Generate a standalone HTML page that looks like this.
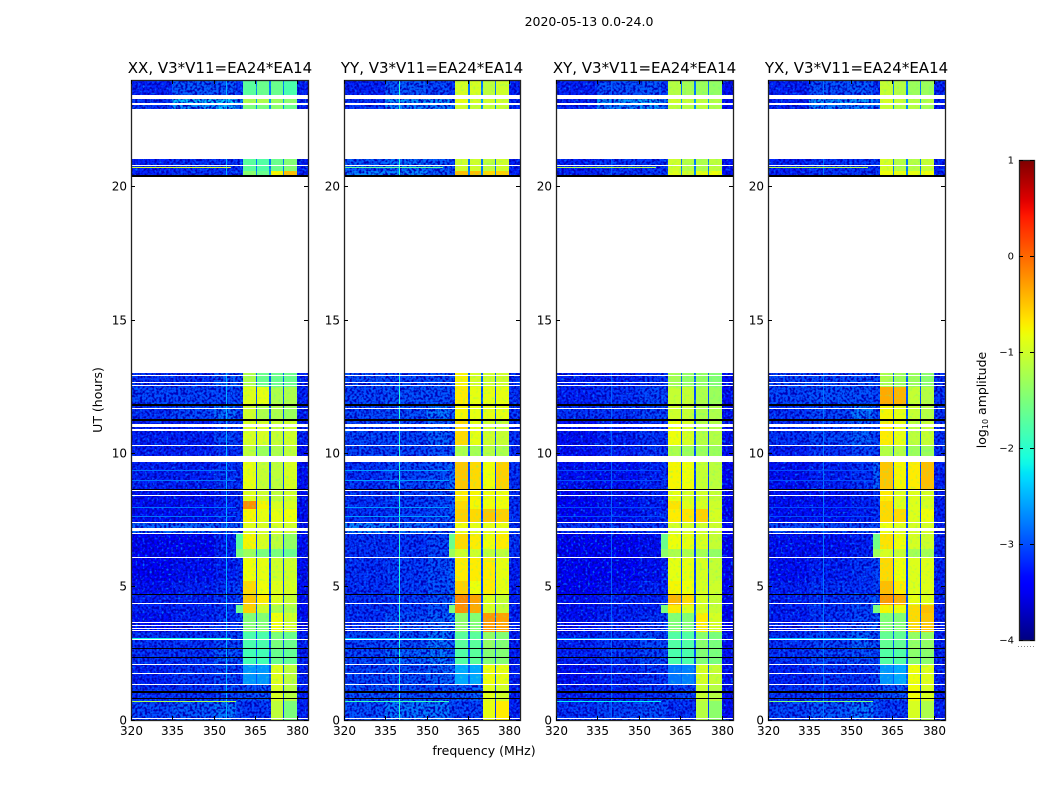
<!DOCTYPE html>
<html lang="en">
<head>
<meta charset="utf-8">
<title>2020-05-13 0.0-24.0</title>
<style>
html,body{margin:0;padding:0;background:#fff;}
svg{display:block;font-family:"DejaVu Sans","Liberation Sans",sans-serif;fill:#000;}
</style>
</head>
<body>
<svg id="figure" width="1050" height="800" viewBox="0 0 1050 800" xmlns="http://www.w3.org/2000/svg">
  <defs>
    <linearGradient id="jet-gradient" x1="0" y1="1" x2="0" y2="0"></linearGradient>
    <filter id="grain-dark" x="0" y="0" width="1" height="1" color-interpolation-filters="sRGB">
      <feTurbulence type="fractalNoise" baseFrequency="0.42" numOctaves="1" seed="4"/>
      <feColorMatrix type="matrix" values="0 0 0 0 0  0 0 0 0 0  0 0 0 0 0.72  5 0 0 0 -2.15"/>
    </filter>
    <filter id="grain-light" x="0" y="0" width="1" height="1" color-interpolation-filters="sRGB">
      <feTurbulence type="fractalNoise" baseFrequency="0.42" numOctaves="1" seed="11"/>
      <feColorMatrix type="matrix" values="0 0 0 0 0  0 0 0 0 0.42  0 0 0 0 1  0 5 0 0 -2.85"/>
    </filter>
    <filter id="grain-band" x="0" y="0" width="1" height="1" color-interpolation-filters="sRGB">
      <feTurbulence type="fractalNoise" baseFrequency="0.38" numOctaves="1" seed="7"/>
      <feColorMatrix type="matrix" values="0 0 0 0 0.3  0 0 0 0 1  0 0 0 0 0.6  0 4 0 0 -2.2"/>
    </filter>
  </defs>
  <rect x="0" y="0" width="1050" height="800" fill="#fff"/>
  <text x="589" y="26" font-size="12.5" text-anchor="middle">2020-05-13 0.0-24.0</text>
  <text x="484" y="755" font-size="12.5" text-anchor="middle">frequency (MHz)</text>
  <text x="0" y="0" font-size="12.5" text-anchor="middle" transform="translate(102 400) rotate(-90)">UT (hours)</text>
  <g id="panels"></g>
  <g id="colorbar"></g>
</svg>
<script>
// ---- data -------------------------------------------------------------
const panelTitles = ['XX, V3*V11=EA24*EA14', 'YY, V3*V11=EA24*EA14', 'XY, V3*V11=EA24*EA14', 'YX, V3*V11=EA24*EA14'];
const freqTicks = [320, 335, 350, 365, 380];
const hourTicks = [0, 5, 10, 15, 20];
const colorbarTicks = [1, 0, -1, -2, -3, -4];
const freqEdges = [320, 335, 350, 358, 360.4, 365.1, 365.7, 369.9, 370.5, 374.8, 375.4, 380, 384];
const hourEdges = [24, 23.4, 23.1, 22.9, 20.6, 20.38, 12.5, 11.8, 11.2, 10.3, 9.7, 8.65, 8.2, 7.9, 7.4, 7.0, 6.4, 6.1, 5.2, 4.7, 4.3, 4.0, 3.3, 2.7, 2.1, 1.3, 0.7, 0];
// log10 amplitude per time segment: 320-335, 335-350, 350-358, 358-360, band A, band B, band C, band D, 380-384
const xxLevels = [
  [-3.2,-2.9,-2.9,-3.1,-1.7,-1.6,-1.6,-1.8,-3.2],
  [-3.1,-2.4,-2.3,-2.7,-1.2,-1.2,-1.3,-1.4,-3.2],
  [-3.1,-2.6,-2.4,-2.8,-1.5,-1.5,-1.4,-1.6,-3.2],
  [-3.2,-3.1,-3.1,-3.1,-1.7,-1.75,-1.6,-1.45,-3.2],
  [-3.2,-3.1,-3.1,-3.1,-1.4,-1.6,-0.75,-0.45,-3.2],
  [-3.1,-3.1,-2.9,-3.0,-1.2,-1.6,-1.6,-1.6,-3.2],
  [-3.0,-3.0,-3.0,-3.0,-0.9,-0.85,-1.2,-1.2,-3.2],
  [-3.1,-3.0,-2.8,-3.0,-1.0,-1.2,-1.2,-1.3,-3.2],
  [-3.2,-3.2,-3.0,-3.1,-0.95,-0.95,-1.05,-1.0,-3.2],
  [-3.2,-3.2,-3.1,-3.1,-1.1,-1.3,-1.2,-1.1,-3.3],
  [-3.2,-3.2,-3.1,-3.1,-0.85,-1.05,-1.1,-0.95,-3.3],
  [-3.3,-3.3,-3.2,-3.1,-0.9,-1.0,-1.1,-1.0,-3.3],
  [-3.3,-3.3,-3.2,-3.1,-0.2,-0.75,-0.95,-0.95,-3.3],
  [-3.3,-3.3,-3.2,-3.1,-0.75,-0.85,-0.85,-0.8,-3.3],
  [-2.85,-2.85,-2.9,-2.8,-0.9,-0.95,-0.95,-1.0,-3.3],
  [-3.4,-3.4,-3.2,-1.7,-0.75,-0.95,-1.1,-1.35,-3.3],
  [-3.4,-3.4,-3.2,-1.5,-1.3,-1.5,-1.5,-1.6,-3.3],
  [-3.4,-3.3,-3.2,-3.1,-0.8,-0.85,-1.0,-1.0,-3.3],
  [-3.3,-3.2,-3.1,-3.0,-0.6,-0.8,-0.9,-0.95,-3.3],
  [-3.2,-3.2,-3.1,-3.0,-0.5,-0.7,-0.9,-1.05,-3.3],
  [-3.2,-3.2,-3.1,-1.6,-0.55,-1.0,-1.2,-1.2,-3.3],
  [-3.3,-3.2,-3.1,-3.0,-1.45,-1.45,-0.8,-1.0,-3.3],
  [-3.1,-3.1,-3.0,-3.0,-1.8,-1.8,-1.5,-1.6,-3.2],
  [-3.1,-3.1,-2.9,-3.0,-1.85,-1.85,-1.6,-1.65,-3.2],
  [-3.2,-3.1,-3.0,-3.1,-2.65,-2.65,-0.9,-1.1,-3.2],
  [-3.1,-3.1,-3.0,-3.0,-2.95,-2.9,-0.95,-1.15,-3.2],
  [-3.0,-2.9,-2.75,-3.0,-3.05,-3.05,-1.1,-1.5,-3.2]
];
const yyLevels = [
  [-3.2,-2.9,-3.0,-3.1,-0.95,-0.95,-1.1,-1.0,-3.2],
  [-3.1,-2.6,-2.6,-2.8,-0.85,-0.95,-1.0,-1.0,-3.2],
  [-3.1,-2.7,-2.7,-2.8,-1.0,-1.05,-1.05,-1.05,-3.2],
  [-2.9,-2.8,-2.9,-3.0,-1.0,-1.0,-1.1,-1.0,-3.2],
  [-2.7,-2.7,-2.9,-2.9,-0.45,-0.45,-0.6,-0.55,-3.2],
  [-2.95,-3.0,-2.95,-2.95,-0.75,-0.95,-1.0,-1.0,-3.1],
  [-3.0,-2.95,-2.95,-2.95,-0.7,-0.85,-0.85,-0.85,-3.1],
  [-3.0,-2.95,-2.75,-2.9,-0.75,-0.85,-0.85,-0.85,-3.1],
  [-3.0,-3.0,-2.85,-2.95,-0.6,-0.85,-1.0,-1.05,-3.1],
  [-3.0,-3.0,-2.95,-2.95,-1.2,-1.25,-1.15,-1.2,-3.1],
  [-3.1,-3.0,-2.95,-2.8,-0.5,-0.6,-0.8,-0.55,-3.1],
  [-3.1,-3.05,-3.0,-2.9,-0.7,-0.75,-0.8,-0.8,-3.1],
  [-3.1,-3.05,-3.0,-2.9,-0.6,-0.75,-0.8,-0.8,-3.1],
  [-3.1,-3.05,-3.0,-2.9,-0.55,-0.6,-0.5,-0.55,-3.1],
  [-2.7,-2.8,-2.9,-2.85,-0.8,-0.85,-0.85,-0.85,-3.1],
  [-3.1,-3.1,-3.0,-1.6,-0.6,-0.7,-0.8,-0.7,-3.1],
  [-3.1,-3.1,-3.0,-1.3,-1.0,-1.0,-1.1,-1.1,-3.1],
  [-3.1,-3.05,-2.95,-2.85,-0.7,-0.7,-0.7,-0.85,-3.2],
  [-3.1,-3.05,-2.95,-2.85,-0.55,-0.8,-0.7,-0.85,-3.2],
  [-3.1,-3.05,-2.95,-2.75,-0.15,-0.3,-0.9,-1.05,-3.2],
  [-3.1,-3.05,-2.95,-1.5,-0.2,-0.35,-0.95,-1.05,-3.2],
  [-3.1,-2.95,-2.85,-2.75,-1.4,-1.45,-0.25,-0.3,-3.2],
  [-3.0,-2.95,-2.75,-2.85,-1.7,-1.7,-1.35,-1.45,-3.2],
  [-3.0,-2.85,-2.75,-2.85,-1.75,-1.7,-1.45,-1.45,-3.2],
  [-3.0,-2.95,-2.85,-2.85,-2.55,-2.55,-0.8,-0.85,-3.2],
  [-2.95,-2.95,-2.95,-2.95,-2.9,-2.85,-0.9,-1.0,-3.2],
  [-2.95,-2.75,-2.75,-2.95,-3.0,-3.0,-0.85,-0.7,-3.2]
];
const xyLevels = [
  [-3.2,-2.95,-2.9,-3.1,-1.15,-1.25,-1.3,-1.35,-3.3],
  [-3.2,-2.6,-2.5,-2.8,-1.0,-1.05,-1.1,-1.15,-3.3],
  [-3.2,-2.7,-2.6,-2.8,-1.1,-1.15,-1.1,-1.2,-3.3],
  [-3.2,-3.1,-3.1,-3.1,-1.0,-1.15,-1.2,-1.1,-3.3],
  [-3.2,-3.1,-3.1,-3.1,-0.9,-1.0,-0.85,-0.8,-3.3],
  [-3.2,-3.2,-3.1,-3.1,-1.25,-1.35,-1.35,-1.45,-3.3],
  [-3.2,-3.1,-3.0,-3.0,-1.05,-1.05,-1.2,-1.3,-3.3],
  [-3.1,-3.1,-3.0,-3.0,-1.0,-1.05,-1.2,-1.2,-3.3],
  [-3.3,-3.2,-3.1,-3.1,-0.8,-0.95,-1.15,-1.15,-3.3],
  [-3.3,-3.2,-3.1,-3.1,-1.2,-1.3,-1.3,-1.3,-3.3],
  [-3.3,-3.3,-3.2,-3.1,-0.75,-0.8,-1.05,-1.1,-3.4],
  [-3.4,-3.3,-3.2,-3.2,-0.85,-0.95,-1.0,-1.05,-3.4],
  [-3.4,-3.3,-3.2,-3.2,-0.65,-0.9,-0.95,-1.0,-3.4],
  [-3.4,-3.3,-3.2,-3.1,-0.7,-0.65,-0.55,-0.95,-3.4],
  [-3.1,-3.1,-3.1,-3.1,-0.95,-0.95,-1.0,-1.0,-3.4],
  [-3.4,-3.4,-3.3,-1.6,-0.8,-0.85,-0.95,-1.05,-3.4],
  [-3.4,-3.4,-3.3,-1.4,-1.2,-1.2,-1.25,-1.35,-3.4],
  [-3.4,-3.4,-3.3,-3.2,-0.85,-0.85,-0.95,-1.05,-3.4],
  [-3.4,-3.3,-3.2,-3.2,-0.75,-0.8,-0.95,-1.0,-3.4],
  [-3.3,-3.2,-3.2,-3.1,-0.4,-0.6,-0.95,-1.05,-3.4],
  [-3.3,-3.2,-3.2,-1.5,-0.7,-0.9,-0.95,-1.05,-3.4],
  [-3.3,-3.2,-3.1,-3.0,-1.45,-1.45,-0.7,-0.95,-3.4],
  [-3.2,-3.1,-3.0,-3.0,-1.75,-1.75,-1.4,-1.5,-3.3],
  [-3.2,-3.1,-3.0,-3.0,-1.8,-1.8,-1.45,-1.5,-3.3],
  [-3.3,-3.2,-3.1,-3.1,-2.8,-2.75,-0.95,-1.05,-3.3],
  [-3.2,-3.2,-3.1,-3.1,-3.05,-3.0,-1.05,-1.15,-3.3],
  [-3.1,-3.0,-2.95,-3.0,-3.1,-3.1,-1.15,-1.4,-3.3]
];
const yxLevels = [
  [-3.2,-2.95,-2.9,-3.1,-1.05,-1.15,-1.3,-1.3,-3.2],
  [-3.2,-2.6,-2.6,-2.8,-0.95,-1.05,-1.15,-1.15,-3.2],
  [-3.2,-2.7,-2.7,-2.8,-1.05,-1.15,-1.15,-1.25,-3.2],
  [-3.2,-3.1,-3.1,-3.1,-0.95,-1.15,-1.15,-1.05,-3.2],
  [-3.2,-3.1,-3.1,-3.1,-0.8,-0.85,-0.85,-0.8,-3.2],
  [-3.0,-3.0,-2.95,-3.0,-1.2,-1.3,-1.3,-1.4,-3.1],
  [-3.0,-2.95,-2.95,-3.0,-0.35,-0.4,-1.05,-1.15,-3.1],
  [-3.1,-3.0,-2.75,-2.95,-0.75,-0.85,-1.05,-1.15,-3.1],
  [-3.1,-3.0,-2.85,-3.0,-0.7,-0.85,-1.1,-1.05,-3.1],
  [-3.2,-3.1,-3.0,-3.0,-1.15,-1.15,-1.3,-1.3,-3.1],
  [-3.3,-3.2,-3.1,-2.85,-0.5,-0.75,-0.7,-0.45,-3.2],
  [-3.3,-3.3,-3.2,-3.1,-0.7,-0.9,-0.9,-0.95,-3.2],
  [-3.3,-3.3,-3.2,-3.1,-0.6,-0.9,-0.9,-0.95,-3.2],
  [-3.3,-3.3,-3.2,-3.1,-0.6,-0.6,-0.9,-0.8,-3.2],
  [-3.0,-3.0,-3.0,-3.0,-0.8,-0.9,-0.95,-0.95,-3.2],
  [-3.3,-3.3,-3.2,-1.55,-0.65,-0.8,-0.95,-1.0,-3.2],
  [-3.3,-3.3,-3.2,-1.3,-0.95,-1.05,-1.25,-1.25,-3.2],
  [-3.3,-3.2,-3.1,-3.0,-0.6,-0.8,-0.9,-0.9,-3.2],
  [-3.2,-3.1,-3.1,-3.0,-0.45,-0.7,-0.9,-0.9,-3.2],
  [-3.2,-3.1,-3.0,-2.9,-0.25,-0.35,-0.85,-0.9,-3.2],
  [-3.2,-3.1,-3.0,-1.5,-0.75,-0.8,-0.6,-0.45,-3.2],
  [-3.2,-3.1,-3.0,-2.9,-1.45,-1.45,-0.6,-0.5,-3.2],
  [-3.1,-3.0,-2.85,-2.95,-1.65,-1.65,-1.35,-1.35,-3.2],
  [-3.1,-3.0,-2.95,-3.0,-1.75,-1.75,-1.4,-1.4,-3.2],
  [-3.2,-3.1,-3.1,-3.0,-2.65,-2.55,-0.8,-0.9,-3.2],
  [-3.1,-3.1,-3.1,-3.0,-2.95,-2.9,-0.8,-0.95,-3.2],
  [-3.0,-2.9,-2.75,-2.95,-3.05,-3.05,-0.95,-1.2,-3.2]
];
const panelLevels = [xxLevels, yyLevels, xyLevels, yxLevels];
// channel notches between the four bright bands, one level per time segment
const notchLevels = [-2.8,-2.6,-2.7,-2.8,-2.7,-2.9,-3.0,-3.0,-3.0,-3.0,-3.05,-3.05,-3.05,-3.05,-3.05,-3.05,-3.05,-3.05,-3.05,-3.05,-3.0,-3.0,-3.0,-3.0,-2.95,-3.05,-3.1];
// flagged time ranges [start hour, end hour]: white = no data, black = zeroed
const flaggedStart = [23.43,23.13,22.91,20.83,20.38,12.94,12.69,12.56,11.70,11.10,10.91,10.31,9.90,8.64,8.44,7.42,7.20,7.01,6.11,4.39,3.67,3.56,3.45,3.37,3.04,2.10,1.76,1.35,0.07];
const flaggedEnd   = [23.27,23.08,21.04,20.79,13.00,12.90,12.62,12.51,11.66,10.99,10.85,10.27,9.67,8.60,8.40,7.37,7.09,6.97,6.07,4.35,3.64,3.52,3.41,3.32,3.00,2.06,1.72,1.31,0.04];
const zeroedStart = [20.45,11.85,11.27,8.68,4.72,2.70,2.36,1.07,0.82];
const zeroedEnd   = [20.38,11.77,11.23,8.64,4.69,2.66,2.32,1.03,0.79];
// narrowband interference: hour, start MHz, end MHz, level per panel
const rfiHours = [20.72, 9.37, 9.0, 7.98, 7.65, 3.07, 0.70];
const rfiStart = [320, 320, 320, 320, 320, 320, 320];
const rfiEnd = [356, 358, 358, 358, 358, 356, 358];
const rfiPanelLevels = [
  [-1.0,-2.8,-2.8,-2.8,-2.8,-2.1,-1.2],
  [-1.7,-2.6,-2.6,-2.6,-2.6,-2.4,-1.9],
  [-1.2,-3.0,-3.0,-3.0,-3.0,-2.6,-2.2],
  [-1.2,-3.0,-3.0,-3.0,-3.0,-2.4,-1.5]
];
// vertical interference lines: one MHz and level per panel
const lineFreqs = [354.5, 340, 340, 340];
const lineLevels = [-2.5, -2.0, -2.9, -2.8];

// ---- layout ------------------------------------------------------------
const NS = 'http://www.w3.org/2000/svg';
const panelsLayer = document.getElementById('panels');
const panelLeft = [131, 344, 556, 768];
const panelRight = [308, 520, 733, 945];
const plotTop = 80, plotBottom = 720;
function yOfHour(h) { return plotBottom - (h / 24) * (plotBottom - plotTop); }
function xOfFreq(p, f) { return panelLeft[p] + ((f - 320) / 64) * (panelRight[p] - panelLeft[p]); }
function ramp(n, pts) {
  for (let i = 1; i < pts.length; i++) {
    if (n <= pts[i][0]) {
      return pts[i - 1][1] + (pts[i][1] - pts[i - 1][1]) * (n - pts[i - 1][0]) / (pts[i][0] - pts[i - 1][0]);
    }
  }
  return pts[pts.length - 1][1];
}
const jetRed = [[0, 0], [0.35, 0], [0.66, 1], [0.89, 1], [1, 0.5]];
const jetGreen = [[0, 0], [0.125, 0], [0.375, 1], [0.64, 1], [0.91, 0], [1, 0]];
const jetBlue = [[0, 0.5], [0.11, 1], [0.34, 1], [0.65, 0], [1, 0]];
function jet(v) {
  const n = Math.min(1, Math.max(0, (v + 4) / 5));
  return 'rgb(' + Math.round(255 * ramp(n, jetRed)) + ',' + Math.round(255 * ramp(n, jetGreen)) + ',' + Math.round(255 * ramp(n, jetBlue)) + ')';
}
function makeRect(x0, x1, y0, y1, fill) {
  const r = document.createElementNS(NS, 'rect');
  r.setAttribute('x', Math.round(x0));
  r.setAttribute('y', Math.round(y0));
  r.setAttribute('width', Math.max(1, Math.round(x1) - Math.round(x0)));
  r.setAttribute('height', Math.max(1, Math.round(y1) - Math.round(y0)));
  r.setAttribute('fill', fill);
  r.setAttribute('shape-rendering', 'crispEdges');
  return r;
}
function makeLine(x1, y1, x2, y2) {
  const l = document.createElementNS(NS, 'line');
  l.setAttribute('x1', x1);
  l.setAttribute('y1', y1);
  l.setAttribute('x2', x2);
  l.setAttribute('y2', y2);
  l.setAttribute('stroke', '#000');
  l.setAttribute('stroke-width', '1');
  l.setAttribute('shape-rendering', 'crispEdges');
  return l;
}
function makeText(x, y, size, anchor, content) {
  const t = document.createElementNS(NS, 'text');
  t.setAttribute('x', x);
  t.setAttribute('y', y);
  t.setAttribute('font-size', size);
  t.setAttribute('text-anchor', anchor);
  t.textContent = content;
  return t;
}
function fmtNumber(v) { return v < 0 ? '\u2212' + Math.abs(v) : String(v); }

// column index in freqEdges -> value column in the level arrays (-1 = notch)
const columnOfEdge = [0, 1, 2, 3, 4, -1, 5, -1, 6, -1, 7, 8];

panelTitles.forEach(function (title, p) {
  const g = document.createElementNS(NS, 'g');
  
  
  panelsLayer.appendChild(g);

  const heat = document.createElementNS(NS, 'g');
  
  
  g.appendChild(heat);

  for (let s = 0; s < hourEdges.length - 1; s++) {
    for (let k = 0; k < freqEdges.length - 1; k++) {
      const col = columnOfEdge[k];
      const value = col < 0 ? notchLevels[s] : panelLevels[p][s][col];
      const cell = makeRect(xOfFreq(p, freqEdges[k]), xOfFreq(p, freqEdges[k + 1]), yOfHour(hourEdges[s]), yOfHour(hourEdges[s + 1]), jet(value));
      
      
      heat.appendChild(cell);
    }
  }

  // speckle texture over the noise floor and the bright bands
  const floorStart = [320, 360.4, 380];
  const floorEnd = [360.4, 370.5, 384];
  const floorTopHour = [24, 1.3, 24];
  floorStart.forEach(function (f, i) {
    const dark = makeRect(xOfFreq(p, f), xOfFreq(p, floorEnd[i]), yOfHour(floorTopHour[i]), plotBottom, '#000');
    dark.setAttribute('filter', 'url(#grain-dark)');
    
    
    heat.appendChild(dark);
    const light = makeRect(xOfFreq(p, f), xOfFreq(p, floorEnd[i]), yOfHour(floorTopHour[i]), plotBottom, '#000');
    light.setAttribute('filter', 'url(#grain-light)');
    
    
    heat.appendChild(light);
  });
  const bandGrain = makeRect(xOfFreq(p, 360.4), xOfFreq(p, 380), plotTop, yOfHour(1.3), '#000');
  bandGrain.setAttribute('filter', 'url(#grain-band)');
  bandGrain.setAttribute('opacity', '0.35');
  
  
  heat.appendChild(bandGrain);

  // bright band shoulder stays solid on top of the speckle
  for (let s = 0; s < hourEdges.length - 1; s++) {
    const shoulder = panelLevels[p][s][3];
    if (shoulder > -2.4) {
      const edgeCell = makeRect(xOfFreq(p, freqEdges[3]), xOfFreq(p, freqEdges[4]), yOfHour(hourEdges[s]), yOfHour(hourEdges[s + 1]), jet(shoulder));
      
      
      heat.appendChild(edgeCell);
    }
  }

  const vline = makeRect(xOfFreq(p, lineFreqs[p]), xOfFreq(p, lineFreqs[p]) + 1, plotTop, plotBottom, jet(lineLevels[p]));
  
  
  heat.appendChild(vline);
  rfiHours.forEach(function (h, i) {
    const rfi = makeRect(xOfFreq(p, rfiStart[i]), xOfFreq(p, rfiEnd[i]), yOfHour(h), yOfHour(h) + 1, jet(rfiPanelLevels[p][i]));
    
    
    heat.appendChild(rfi);
  });
  flaggedStart.forEach(function (h, i) {
    const band = makeRect(panelLeft[p], panelRight[p], yOfHour(h), yOfHour(flaggedEnd[i]), '#fff');
    
    
    heat.appendChild(band);
  });
  zeroedStart.forEach(function (h, i) {
    const band = makeRect(panelLeft[p], panelRight[p], yOfHour(h), yOfHour(zeroedEnd[i]), '#000');
    
    
    heat.appendChild(band);
  });

  const frame = document.createElementNS(NS, 'rect');
  
  
  frame.setAttribute('x', panelLeft[p] + 0.5);
  frame.setAttribute('y', plotTop + 0.5);
  frame.setAttribute('width', panelRight[p] - panelLeft[p]);
  frame.setAttribute('height', plotBottom - plotTop);
  frame.setAttribute('fill', 'none');
  frame.setAttribute('stroke', '#222');
  frame.setAttribute('stroke-width', '1.3');
  g.appendChild(frame);

  const titleText = makeText((panelLeft[p] + panelRight[p]) / 2 + (p === 0 ? 0.5 : 0), 73, 15, 'middle', title);
  
  
  g.appendChild(titleText);

  freqTicks.forEach(function (f) {
    const x = Math.round(xOfFreq(p, f)) + 0.5;
    const bottomTick = makeLine(x, plotBottom - 4, x, plotBottom);
    
    
    g.appendChild(bottomTick);
    const topTick = makeLine(x, plotTop, x, plotTop + 4);
    
    
    g.appendChild(topTick);
    const label = makeText(x, 735, 12, 'middle', String(f));
    
    
    g.appendChild(label);
  });
  hourTicks.forEach(function (h) {
    const y = Math.floor(yOfHour(h)) + 0.5;
    const leftTick = makeLine(panelLeft[p], y, panelLeft[p] + 4, y);
    
    
    g.appendChild(leftTick);
    const rightTick = makeLine(panelRight[p] - 4, y, panelRight[p], y);
    
    
    g.appendChild(rightTick);
    const label = makeText(panelLeft[p] - 4, y + 4, 12, 'end', String(h));
    
    
    g.appendChild(label);
  });
});

// ---- colorbar ----------------------------------------------------------
const cbLayer = document.getElementById('colorbar');
const cbLeft = 1019, cbRight = 1034, cbTop = 160, cbBottom = 640;
function yOfLevel(v) { return cbBottom - ((v + 4) / 5) * (cbBottom - cbTop); }
const gradient = document.getElementById('jet-gradient');
for (let i = 0; i <= 60; i++) {
  const stop = document.createElementNS(NS, 'stop');
  stop.setAttribute('offset', (i / 60 * 100) + '%');
  stop.setAttribute('stop-color', jet(-4 + 5 * i / 60));
  gradient.appendChild(stop);
}
const cbBar = document.createElementNS(NS, 'rect');


cbBar.setAttribute('x', cbLeft + 0.5);
cbBar.setAttribute('y', cbTop + 0.5);
cbBar.setAttribute('width', cbRight - cbLeft);
cbBar.setAttribute('height', cbBottom - cbTop);
cbBar.setAttribute('fill', 'url(#jet-gradient)');
cbBar.setAttribute('stroke', '#222');
cbBar.setAttribute('stroke-width', '1.3');
cbLayer.appendChild(cbBar);
colorbarTicks.forEach(function (v) {
  const y = Math.round(yOfLevel(v)) + 0.5;
  const tickL = makeLine(cbLeft, y, cbLeft + 4, y);
  
  
  cbLayer.appendChild(tickL);
  const tickR = makeLine(cbRight - 4, y, cbRight, y);
  
  
  cbLayer.appendChild(tickR);
  const label = makeText(cbLeft - 5, y + 3, 10, 'end', fmtNumber(v));
  
  
  cbLayer.appendChild(label);
});
const cbDots = makeLine(cbLeft - 1, 646.5, cbRight, 646.5);


cbDots.setAttribute('stroke', '#888');
cbDots.setAttribute('stroke-dasharray', '1 2');
cbLayer.appendChild(cbDots);
const cbTitle = document.createElementNS(NS, 'text');


cbTitle.setAttribute('font-size', '12.5');
cbTitle.setAttribute('text-anchor', 'middle');
cbTitle.setAttribute('transform', 'translate(986 400) rotate(-90)');
const cbLog = document.createElementNS(NS, 'tspan');
cbLog.textContent = 'log';
cbTitle.appendChild(cbLog);
const cbSub = document.createElementNS(NS, 'tspan');
cbSub.setAttribute('font-size', '8');
cbSub.setAttribute('dy', '2');
cbSub.textContent = '10';
cbTitle.appendChild(cbSub);
const cbRest = document.createElementNS(NS, 'tspan');
cbRest.setAttribute('dy', '-2');
cbRest.textContent = ' amplitude';
cbTitle.appendChild(cbRest);
cbLayer.appendChild(cbTitle);
</script>
</body>
</html>
